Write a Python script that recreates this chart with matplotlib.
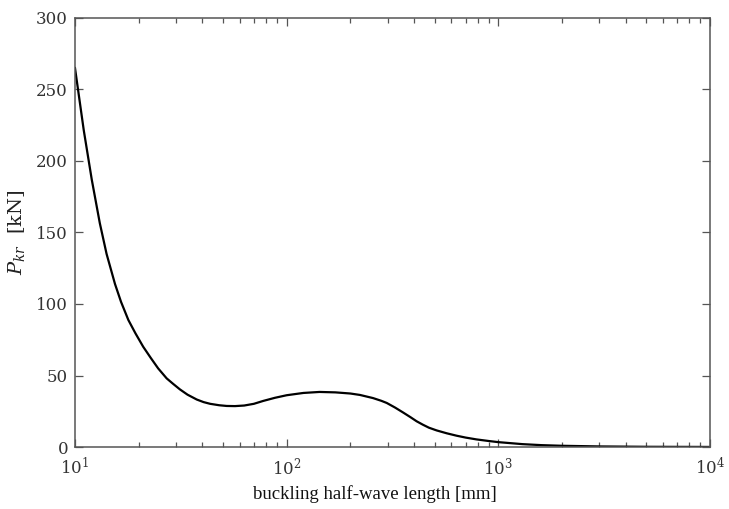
import matplotlib
matplotlib.use("Agg")
import matplotlib.pyplot as plt
from matplotlib.ticker import LogLocator, NullFormatter

half_wave_mm = [10, 11, 12, 13.1, 14.1, 15.45, 16.5, 17.87, 19.3, 21, 22.8, 24.7, 27.1, 29,
                31.3, 34, 37.6, 40.5, 43.5, 48, 52.1, 57, 63, 70, 77.4, 88, 100, 120, 143,
                170, 200, 222, 256, 280, 297, 325, 356, 385, 411, 440, 470, 511, 570, 635,
                700, 789, 900, 1000, 1300, 1600, 2000, 3000, 5000, 10000]
p_kr_kN = [265, 221.5, 187, 156.5, 135, 114, 101.5, 88.8, 79.5, 70.1, 62.3, 55, 48,
           44.3, 40.3, 36.6, 33.2, 31.4, 30.2, 29.2, 28.7, 28.6, 29, 30.2, 32.2, 34.4,
           36.2, 37.8, 38.5, 38.2, 37.4, 36.4, 34.2, 32.3, 30.8, 27.6, 24.0, 20.8, 18.0,
           15.6, 13.5, 11.6, 9.6, 7.9, 6.6, 5.3, 4.2, 3.4, 2.0, 1.3, 0.85, 0.4, 0.15, 0.04]

plt.rcParams['font.family'] = ['DejaVu Serif']
plt.rcParams['mathtext.fontset'] = 'dejavuserif'

fig = plt.figure(figsize=(7.29, 5.09), dpi=100)
ax = fig.add_axes([75/729, 62/509, 635/729, 429/509])
ax.plot(half_wave_mm, p_kr_kN, color='black', lw=1.6)
ax.set_xscale('log')
ax.set_xlim(10, 10000)
ax.set_ylim(0, 300)
ax.set_yticks([0, 50, 100, 150, 200, 250, 300])
ax.xaxis.set_major_locator(LogLocator(base=10, numticks=10))
ax.xaxis.set_minor_locator(LogLocator(base=10, subs=range(2, 10), numticks=20))
ax.xaxis.set_minor_formatter(NullFormatter())
ax.tick_params(which='both', direction='in', top=True, right=True, colors='#555555',
               labelcolor='#333333')
ax.tick_params(which='major', length=6, labelsize=12, width=0.9)
ax.tick_params(which='minor', length=3.5, width=0.9)
ax.tick_params(axis='x', which='major', pad=7)
ax.tick_params(axis='y', which='major', pad=5)
for s in ax.spines.values():
    s.set_color('#555555')
    s.set_linewidth(1.1)
ax.set_xlabel('buckling half-wave length [mm]', fontsize=13.5, color='#111111',
              family=['Liberation Serif'])
ax.xaxis.set_label_coords(0.472, -0.09)
ax.set_ylabel(r'$P_{kr}$  [kN]', fontsize=14, color='#222222')
ax.yaxis.set_label_coords(-0.075, 0.5)
fig.savefig('out.png', dpi=100)
